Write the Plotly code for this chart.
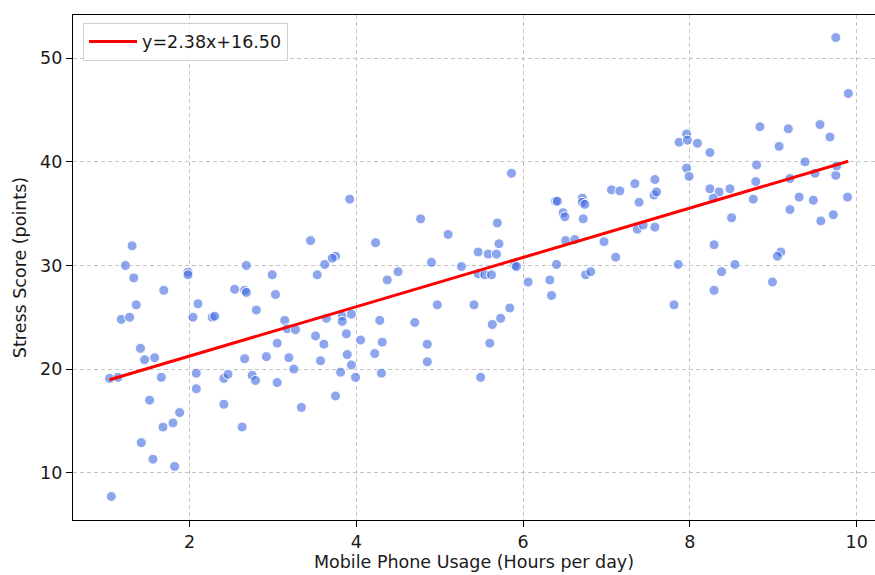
import plotly.graph_objects as go

# Daily phone usage (hours) and measured stress score (points)
usage_hours = [
    1.31, 1.23, 1.33, 1.98, 1.98, 2.68, 2.99, 1.69, 2.54, 2.66, 2.68, 3.03, 1.36, 2.10,
    1.18, 1.28, 2.04, 2.27, 2.30, 2.80, 3.05, 1.41, 1.46, 1.58, 2.66, 2.92, 1.04, 1.14,
    1.66, 2.08, 2.08, 2.41, 2.46, 2.75, 2.79, 3.05, 1.52, 2.41, 1.88, 1.80, 1.68, 2.63,
    1.42, 1.56, 1.82, 1.06,
    3.92, 4.77, 5.10, 3.45, 4.23, 3.75, 3.71, 3.62, 4.90, 3.53, 4.50, 4.37, 4.97, 3.14,
    3.17, 3.27, 3.64, 3.83, 3.83, 3.94, 4.28, 4.70, 3.51, 3.61, 3.88, 4.05, 4.31, 4.85,
    3.19, 3.57, 3.89, 4.22, 4.85, 3.94, 3.25, 3.81, 3.99, 4.30, 3.75, 3.34,
    5.86, 7.06, 7.16, 6.39, 6.41, 6.71, 6.71, 6.74, 6.48, 6.50, 6.72, 5.69, 6.51, 6.62,
    6.97, 5.71, 5.46, 5.58, 5.68, 7.11, 5.26, 5.90, 5.92, 6.40, 5.46, 5.54, 5.62, 6.75,
    6.81, 6.06, 6.32, 6.34, 5.41, 5.84, 5.73, 5.63, 5.60, 5.49,
    8.84, 7.96, 7.87, 7.97, 8.09, 8.24, 8.80, 7.96, 7.99, 8.79, 7.58, 7.34, 8.24, 8.35,
    8.48, 7.57, 7.60, 8.28, 8.76, 7.39, 8.50, 7.37, 7.44, 7.58, 8.29, 7.86, 8.54, 8.38,
    8.29, 7.81,
    9.75, 9.90, 9.18, 9.56, 9.68, 9.07, 9.38, 9.20, 9.50, 9.75, 9.76, 9.31, 9.48, 9.89,
    9.20, 9.57, 9.72, 9.09, 9.05, 8.99,
]
stress_score = [
    31.9, 30.0, 28.8, 29.35, 29.1, 30.0, 29.1, 27.6, 27.7, 27.6, 27.4, 27.2, 26.2, 26.3,
    24.8, 25.0, 25.0, 25.0, 25.1, 25.7, 22.5, 22.0, 20.9, 21.1, 21.0, 21.2, 19.1, 19.2,
    19.2, 19.6, 18.1, 19.1, 19.5, 19.4, 18.9, 18.7, 17.0, 16.6, 15.8, 14.8, 14.4, 14.4,
    12.9, 11.3, 10.6, 7.7,
    36.4, 34.5, 33.0, 32.4, 32.2, 30.9, 30.7, 30.1, 30.3, 29.1, 29.4, 28.6, 26.2, 24.7,
    23.9, 23.8, 24.9, 25.1, 24.6, 25.3, 24.7, 24.5, 23.2, 22.4, 23.4, 22.8, 22.6, 22.4,
    21.1, 20.8, 21.4, 21.5, 20.7, 20.4, 20.0, 19.7, 19.2, 19.6, 17.4, 16.3,
    38.9, 37.3, 37.2, 36.2, 36.2, 36.5, 36.1, 35.9, 35.1, 34.7, 34.5, 34.1, 32.4, 32.5,
    32.3, 32.1, 31.3, 31.1, 31.1, 30.8, 29.9, 30.0, 29.9, 30.1, 29.2, 29.1, 29.1, 29.1,
    29.4, 28.4, 28.6, 27.1, 26.2, 25.9, 24.9, 24.3, 22.5, 19.2,
    43.4, 42.7, 41.9, 42.1, 41.8, 40.9, 39.7, 39.4, 38.6, 38.1, 38.3, 37.9, 37.4, 37.1,
    37.4, 36.8, 37.1, 36.5, 36.4, 36.1, 34.6, 33.5, 33.9, 33.7, 32.0, 30.1, 30.1, 29.4,
    27.6, 26.2,
    52.0, 46.6, 43.2, 43.6, 42.4, 41.5, 40.0, 38.4, 38.9, 38.7, 39.6, 36.6, 36.3, 36.6,
    35.4, 34.3, 34.9, 31.3, 30.9, 28.4,
]

# Fitted regression line
slope = 2.38
intercept = 16.50
fit_x = [min(usage_hours), max(usage_hours)]
fit_y = [slope * x + intercept for x in fit_x]

x_ticks = [2, 4, 6, 8, 10]
y_ticks = [10, 20, 30, 40, 50]

fig = go.Figure()

fig.add_trace(go.Scatter(
    x=usage_hours, y=stress_score, mode="markers", showlegend=False,
    marker=dict(size=10, color="rgba(65,105,225,0.6)",
                line=dict(color="white", width=1)),
))

fig.add_trace(go.Scatter(
    x=fit_x, y=fit_y, mode="lines",
    name=f"y={slope:.2f}x+{intercept:.2f}",
    line=dict(color="red", width=3),
))

font_family = "DejaVu Sans"
text_size = 17.5
axis_common = dict(
    showline=True, linecolor="black", linewidth=1.2,
    ticks="outside", ticklen=6, tickwidth=1.2, tickcolor="black",
    showgrid=True, gridcolor="#c4c4c4", griddash="4px,3px", gridwidth=1,
    zeroline=False, tickfont=dict(size=text_size, color="#1a1a1a"),
    title_font=dict(size=text_size, color="#1a1a1a"),
)

fig.update_layout(
    width=875, height=575,
    margin=dict(l=73, r=0, t=15, b=55),
    paper_bgcolor="white", plot_bgcolor="white",
    font=dict(family=font_family, color="#1a1a1a"),
    xaxis=dict(range=[0.601, 10.22], tickvals=x_ticks, mirror=True,
               title=dict(text="Mobile Phone Usage (Hours per day)", standoff=4),
               **axis_common),
    yaxis=dict(range=[5.43, 54.18], tickvals=y_ticks,
               title=dict(text="Stress Score (points)", standoff=8),
               **axis_common),
    legend=dict(x=0.0125, y=0.985, xanchor="left", yanchor="top",
                itemwidth=48, tracegroupgap=0,
                bgcolor="rgba(255,255,255,0.8)", bordercolor="#d0d0d0", borderwidth=1,
                font=dict(size=text_size, color="#1a1a1a")),
)

fig.write_html("out.html")
